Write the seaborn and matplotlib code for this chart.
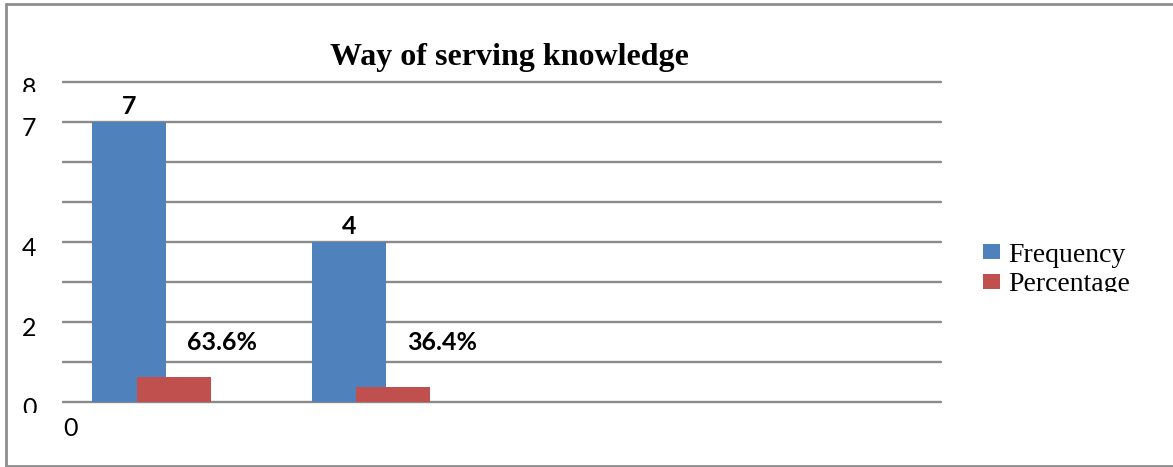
import numpy as np
import pandas as pd
import matplotlib
matplotlib.use("Agg")
import matplotlib.pyplot as plt
import seaborn as sns
from matplotlib.transforms import Bbox, ScaledTranslation
from matplotlib.lines import Line2D
from matplotlib.patches import Patch

# Chart data
n_slots = 4                      # category slots on the horizontal axis
frequency = [7, 4]
percentage = [0.636, 0.364]
percentage_labels = ["63.6%", "36.4%"]
frequency_labels = ["7", "4"]
series_names = ["Frequency", "Percentage"]
ytick_values = [0, 1, 2, 3, 4, 5, 6, 7, 8]
ytick_labels = ["0", "", "2", "", "4", "", "", "7", "8"]
xtick_label = "0"

BLUE = "#4F81BD"
RED = "#C0504D"
GRID = "#8A8A8A"

sns.set_theme(style="white")
plt.rcParams["font.family"] = ["Lato", "DejaVu Sans"]
plt.rcParams["text.color"] = "black"

W, H = 1173, 467
fig = plt.figure(figsize=(W / 100, H / 100), dpi=100)
fig.patch.set_facecolor("white")

# plot area in pixel coordinates: x 63..941, y 82..402 (top-down)
ax = fig.add_axes([63 / W, 1 - 402 / H, (941 - 63) / W, (402 - 82) / H])

idx = np.arange(len(frequency))
df = pd.DataFrame({
    "pos_f": idx - 0.198,
    "pos_p": idx + 0.005,
    "Frequency": frequency,
    "Percentage": percentage,
})
bar_w = 0.337
sns.barplot(data=df, x="pos_f", y="Frequency", native_scale=True, width=bar_w,
            color=BLUE, saturation=1, errorbar=None, ax=ax, zorder=3,
            linewidth=0, edgecolor="none")
sns.barplot(data=df, x="pos_p", y="Percentage", native_scale=True, width=bar_w,
            color=RED, saturation=1, errorbar=None, ax=ax, zorder=3,
            linewidth=0, edgecolor="none")

ax.set_xlim(-0.5, n_slots - 0.5)
ax.set_ylim(0, 8)
ax.set_xlabel("")
ax.set_ylabel("")

# horizontal gridlines (the one at 0 doubles as the category axis)
ax.set_yticks(ytick_values)
ax.set_yticklabels(ytick_labels)
ax.yaxis.grid(True, color=GRID, linewidth=1.7)
ax.xaxis.grid(False)
ax.set_axisbelow(True)
for gl in ax.get_ygridlines():
    gl.set_clip_on(False)
for s in ax.spines.values():
    s.set_visible(False)
ax.tick_params(axis="y", length=0, pad=19, labelsize=18, labelcolor="black")
ax.set_xticks([-0.5])
ax.set_xticklabels([xtick_label])
ax.tick_params(axis="x", length=0, pad=11, labelsize=18, labelcolor="black")
for t in ax.get_xticklabels():
    t.set_horizontalalignment("left")

# value axis labels sit a little below their gridlines
shift = ScaledTranslation(0, -5 / 100, fig.dpi_scale_trans)
for t in ax.get_yticklabels():
    t.set_transform(t.get_transform() + shift)

# value labels
containers = ax.containers
ax.bar_label(containers[0], labels=frequency_labels, padding=3,
             fontsize=18, fontweight="bold", color="black")
for i, (v, lab) in enumerate(zip(percentage, percentage_labels)):
    ax.text(df["pos_p"][i] + 0.22, 1.5, lab, ha="center", va="center",
            fontsize=18, fontweight="bold", color="black")

ax.set_title("Way of serving knowledge", fontsize=23, fontweight="bold",
             family="Liberation Serif", pad=12, x=0.508, color="black")

handles = [Patch(facecolor=BLUE, edgecolor="none"),
           Patch(facecolor=RED, edgecolor="none")]
leg = fig.legend(handles, series_names, loc="center left",
                 bbox_to_anchor=(969 / W, 1 - 270 / H), frameon=False,
                 prop={"family": "Liberation Serif", "size": 20},
                 handlelength=0.6, handleheight=0.45, handletextpad=0.3,
                 labelspacing=0.16, borderpad=0)
for t in leg.get_texts():
    t.set_color("black")

# outer chart frame
frame_kw = dict(color="#8E8E8E", linewidth=2, transform=fig.transFigure)
fig.add_artist(Line2D([6 / W, 6 / W], [1 - 4 / H, 1 - 466 / H], **frame_kw))
fig.add_artist(Line2D([6 / W, 1], [1 - 4 / H, 1 - 4 / H], **frame_kw))
fig.add_artist(Line2D([6 / W, 1], [1 - 466 / H, 1 - 466 / H], **frame_kw))

# labels at the edges of the plot and legend areas are trimmed there
fig.canvas.draw()
for t in ax.get_yticklabels():
    txt = t.get_text()
    if txt == "8":
        t.set_clip_on(True)
        t.set_clip_box(Bbox.from_extents(0, H - 92, 62, H - 60))
    elif txt == "0":
        t.set_clip_on(True)
        t.set_clip_box(Bbox.from_extents(0, H - 413, 62, H - 390))
pct_text = leg.get_texts()[1]
pct_text.set_clip_on(True)
pct_text.set_clip_box(Bbox.from_extents(950, H - 292, W, H - 255))

fig.savefig("out.png", dpi=100)
